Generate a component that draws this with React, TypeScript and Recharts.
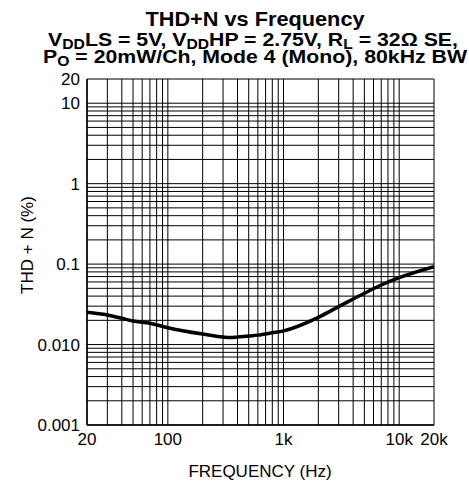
import { LineChart, Line, XAxis, YAxis, CartesianGrid } from "recharts";

// frequency (Hz) and THD+N (%)
const freqs = [20, 30, 40, 50, 70, 100, 200, 300, 350, 400, 500, 600, 800, 1000, 2000, 3000, 5000, 7000, 10000, 20000];
const thdN = [0.0252, 0.0233, 0.0212, 0.0196, 0.0184, 0.0162, 0.0135, 0.0124, 0.0122, 0.0124, 0.0128, 0.0131, 0.014, 0.0148, 0.0218, 0.0296, 0.0434, 0.055, 0.0678, 0.093];

// grid lines
const xTicks = [20, 30, 40, 50, 60, 70, 80, 90, 100, 200, 300, 400, 500, 600, 700, 800, 900, 1000, 2000, 3000, 4000, 5000, 6000, 7000, 8000, 9000, 10000, 20000];
const yTicks = [
  0.001, 0.002, 0.003, 0.004, 0.005, 0.006, 0.007, 0.008, 0.009,
  0.01, 0.02, 0.03, 0.04, 0.05, 0.06, 0.07, 0.08, 0.09,
  0.1, 0.2, 0.3, 0.4, 0.5, 0.6, 0.7, 0.8, 0.9,
  1, 2, 3, 4, 5, 6, 7, 8, 9, 10, 20,
];

// only these ticks carry a label
const xLabels = new Map<number, string>([[20, "20"], [100, "100"], [1000, "1k"], [10000, "10k"], [20000, "20k"]]);
const yLabels = new Map<number, string>([[0.001, "0.001"], [0.01, "0.010"], [0.1, "0.1"], [1, "1"], [10, "10"], [20, "20"]]);

const data = freqs.map((f, i) => ({ f, thd: thdN[i] }));

const FONT = "'Liberation Sans', Arial, Helvetica, sans-serif";
const tickStyle = { fill: "#000", fontSize: 17, fontFamily: FONT };

export default function App() {
  return (
    <div style={{ position: "absolute", left: 0, top: 0, width: 469, height: 483, background: "#fff" }}>
      <LineChart width={469} height={483} data={data} margin={{ top: 79, right: 35, bottom: 0, left: 0 }}>
        <CartesianGrid stroke="#000" strokeWidth={1} />
        <XAxis
          dataKey="f"
          type="number"
          scale="log"
          domain={[20, 20000]}
          ticks={xTicks}
          interval={0}
          allowDataOverflow
          height={58}
          tickSize={0}
          tickMargin={8}
          tickLine={false}
          axisLine={{ stroke: "#000", strokeWidth: 1.5 }}
          tick={tickStyle}
          tickFormatter={(v: number) => xLabels.get(v) ?? ""}
        />
        <YAxis
          type="number"
          scale="log"
          domain={[0.001, 20]}
          ticks={yTicks}
          interval={0}
          allowDataOverflow
          width={87}
          tickSize={0}
          tickMargin={7}
          tickLine={false}
          axisLine={{ stroke: "#000", strokeWidth: 1.5 }}
          tick={tickStyle}
          tickFormatter={(v: number) => yLabels.get(v) ?? ""}
        />
        <Line
          type="monotone"
          dataKey="thd"
          stroke="#000"
          strokeWidth={3.5}
          dot={false}
          isAnimationActive={false}
        />
      </LineChart>

      {/* titre + libellés d'axes */}
      <svg
        width={469}
        height={483}
        style={{ position: "absolute", left: 0, top: 0, pointerEvents: "none" }}
        fontFamily={FONT}
      >
        <text transform="translate(255 26) scale(1.035 1)" textAnchor="middle" fontSize={21} fontWeight="bold">
          THD+N vs Frequency
        </text>
        <text transform="translate(253 46) scale(1.12 1)" textAnchor="middle" fontSize={19} fontWeight="bold">
          <tspan>V</tspan>
          <tspan fontSize={14} dy={3}>DD</tspan>
          <tspan dy={-3}>LS = 5V, V</tspan>
          <tspan fontSize={14} dy={3}>DD</tspan>
          <tspan dy={-3}>HP = 2.75V, R</tspan>
          <tspan fontSize={14} dy={3}>L</tspan>
          <tspan dy={-3}> = 32Ω SE,</tspan>
        </text>
        <text transform="translate(255 63) scale(1.12 1)" textAnchor="middle" fontSize={19} fontWeight="bold">
          <tspan>P</tspan>
          <tspan fontSize={14} dy={3}>O</tspan>
          <tspan dy={-3}> = 20mW/Ch, Mode 4 (Mono), 80kHz BW</tspan>
        </text>
        <text x={260} y={477} textAnchor="middle" fontSize={17}>
          FREQUENCY (Hz)
        </text>
        <text
          x={0}
          y={0}
          transform="translate(33 245) rotate(-90)"
          textAnchor="middle"
          fontSize={17}
        >
          THD + N (%)
        </text>
      </svg>
    </div>
  );
}
